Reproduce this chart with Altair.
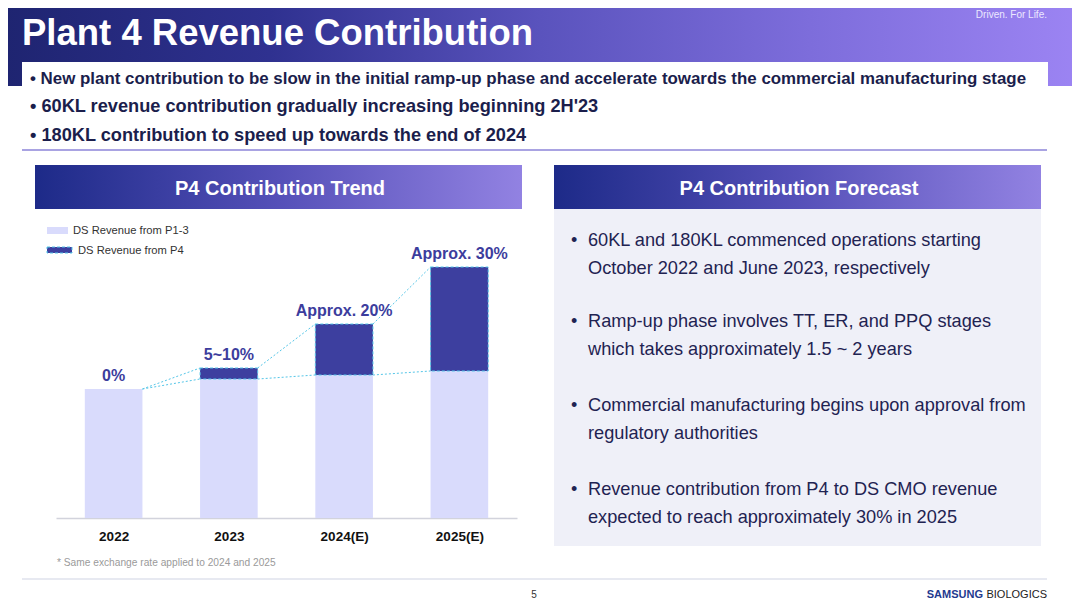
import altair as alt
import pandas as pd

# ---------------- data ----------------
YEARS = ["2022", "2023", "2024(E)", "2025(E)"]
P13 = [129, 139, 143, 147]          # DS revenue from P1-3 (relative units)
P4 = [0, 11, 51, 104]               # DS revenue from P4 (relative units)
BAR_LABELS = ["0%", "5~10%", "Approx. 20%", "Approx. 30%"]
SERIES = ["DS Revenue from P1-3", "DS Revenue from P4"]

TITLE = "Plant 4 Revenue Contribution"
TAGLINE = "Driven. For Life."
TOP_BULLETS = [
    "\u2022 New plant contribution to be slow in the initial ramp-up phase and accelerate towards the commercial manufacturing stage",
    "\u2022 60KL revenue contribution gradually increasing beginning 2H'23",
    "\u2022 180KL contribution to speed up towards the end of 2024",
]
PANEL_TITLES = ["P4 Contribution Trend", "P4 Contribution Forecast"]
FORECAST = [
    ["60KL and 180KL commenced operations starting", "October 2022 and June 2023, respectively"],
    ["Ramp-up phase involves TT, ER, and PPQ stages", "which takes approximately 1.5 ~ 2 years"],
    ["Commercial manufacturing begins upon approval from", "regulatory authorities"],
    ["Revenue contribution from P4 to DS CMO revenue", "expected to reach approximately 30% in 2025"],
]
FOOTNOTE = "* Same exchange rate applied to 2024 and 2025"
PAGE = "5"
BRAND = ["SAMSUNG", "BIOLOGICS"]

# ---------------- style ----------------
FONT = "Liberation Sans"
W, H = 1064, 598
OX, OY = 8, 8
LIGHT = "#d9dbfc"
DARK = "#3d3f9f"
CYAN = "#55c6e8"
LABEL_C = "#3c3d9d"
NAVY_TXT = "#1b1e4c"
HALF = 0.25

ONE = pd.DataFrame({"k": [0]})


def X(v):
    return alt.value(v - OX)


def Y(v):
    return alt.value(v - OY)


def rect(x1, y1, x2, y2, **mk):
    return alt.Chart(ONE).mark_rect(**mk).encode(x=X(x1), x2=X(x2), y=Y(y1), y2=Y(y2))


def hline(x1, x2, y, **mk):
    return alt.Chart(ONE).mark_rule(**mk).encode(x=X(x1), x2=X(x2), y=Y(y))


def text(t, x, y, **mk):
    mk.setdefault("font", FONT)
    mk.setdefault("baseline", "alphabetic")
    return alt.Chart(ONE).mark_text(text=t, **mk).encode(x=X(x), y=Y(y))


def grad(stops):
    return alt.Gradient(
        gradient="linear",
        stops=[alt.GradientStop(color=c, offset=o) for o, c in stops],
        x1=0, x2=1, y1=0, y2=0,
    )


HEADER_GRAD = grad([(0, "#1e2470"), (0.25, "#2f3190"), (0.5, "#5a53bd"), (0.75, "#7d6ddb"), (1, "#9c84f3")])
PANEL_GRAD = grad([(0, "#1d2a88"), (0.5, "#5550b8"), (1, "#9282e2")])

layers = []

# header
layers.append(rect(0, 0, 1080, 86, fill=HEADER_GRAD))
layers.append(text(TAGLINE, 1047, 18, align="right", fontSize=10, color="#ece8ff"))
layers.append(text(TITLE, 22, 45, align="left", fontSize=36.5, fontWeight="bold", color="white"))
layers.append(rect(22, 62, 1048, 148, fill="white"))
for row, yb, fs in zip(TOP_BULLETS, [84, 112, 141], [16.9, 18.2, 18.2]):
    layers.append(text(row, 30, yb, align="left", fontSize=fs, fontWeight="bold", color=NAVY_TXT))
layers.append(hline(22, 1047, 150, color="#8c84d9", strokeWidth=1.5))

# panel headers
layers.append(rect(35, 165, 522, 209, fill=PANEL_GRAD))
layers.append(text(PANEL_TITLES[0], 280, 195, align="center", fontSize=20, fontWeight="bold", color="white"))
layers.append(rect(554, 165, 1041, 209, fill=PANEL_GRAD))
layers.append(rect(554, 209, 1041, 546, fill="#eff0f8"))
layers.append(text(PANEL_TITLES[1], 799, 195, align="center", fontSize=20, fontWeight="bold", color="white"))

# forecast bullets
for lines, yb in zip(FORECAST, [246, 327, 411, 495]):
    layers.append(text("\u2022", 571, yb, align="left", fontSize=18, color="#1f2352"))
    layers.append(text(lines, 588, yb, align="left", fontSize=18.2, lineHeight=28, color="#1f2352"))

# legend (manual)
layers.append(rect(47, 227, 68, 234, fill=LIGHT))
layers.append(text(SERIES[0], 73, 234, align="left", fontSize=11.2, color="#333333"))
layers.append(rect(47, 247, 72, 253, fill=DARK, stroke=CYAN, strokeDash=[3, 2], strokeWidth=1))
layers.append(text(SERIES[1], 78, 254, align="left", fontSize=11.2, color="#333333"))

# ---------------- bar chart ----------------
x_scale = alt.Scale(domain=[-0.5, 3.5], range=[56 - OX, 517 - OX], zero=False, nice=False)
y_scale = alt.Scale(domain=[0, 300], range=[518 - OY, 218 - OY], nice=False)
label_expr = "[" + ",".join("'%s'" % y for y in YEARS) + "][datum.value]"
x_axis = alt.Axis(
    values=list(range(len(YEARS))), labelExpr=label_expr, orient="bottom",
    offset=(518 - OY) - H, ticks=False, tickSize=0, grid=False, title=None,
    domainColor="#d2d3dc", domainWidth=1.5, labelFont=FONT, labelFontSize=13.5,
    labelFontWeight="bold", labelColor="#111111", labelPadding=11,
)

rows = []
for i, (yr, a, b) in enumerate(zip(YEARS, P13, P4)):
    rows.append(dict(year=yr, i=i, series=SERIES[0], y0=0, y1=a))
    if b > 0:
        rows.append(dict(year=yr, i=i, series=SERIES[1], y0=a, y1=a + b))
bars = pd.DataFrame(rows)
bars["xa"] = bars["i"] - HALF
bars["xb"] = bars["i"] + HALF

bar_layer = alt.Chart(bars).mark_rect(strokeDash=[3, 2], strokeWidth=1).encode(
    x=alt.X("xa:Q", scale=x_scale, axis=x_axis),
    x2="xb:Q",
    y=alt.Y("y0:Q", scale=y_scale, axis=None),
    y2="y1:Q",
    color=alt.Color("series:N", scale=alt.Scale(domain=SERIES, range=[LIGHT, DARK]), legend=None),
    stroke=alt.Stroke("series:N", scale=alt.Scale(domain=SERIES, range=["transparent", CYAN]), legend=None),
)

totals = [a + b for a, b in zip(P13, P4)]
crow = []
for i in range(len(YEARS) - 1):
    for tops in (P13, totals):
        crow.append(dict(xa=i + HALF, xb=i + 1 - HALF, ya=tops[i], yb=tops[i + 1]))
conn = pd.DataFrame(crow)
conn_layer = alt.Chart(conn).mark_rule(color=CYAN, strokeDash=[2, 2], strokeWidth=1).encode(
    x=alt.X("xa:Q", scale=x_scale, axis=x_axis),
    x2="xb:Q",
    y=alt.Y("ya:Q", scale=y_scale, axis=None),
    y2="yb:Q",
)

labs = pd.DataFrame({"i": list(range(len(YEARS))), "total": totals, "label": BAR_LABELS})
lab_layer = alt.Chart(labs).mark_text(
    dy=-8, baseline="alphabetic", fontSize=16, fontWeight="bold", color=LABEL_C, font=FONT
).encode(
    x=alt.X("i:Q", scale=x_scale, axis=x_axis),
    y=alt.Y("total:Q", scale=y_scale, axis=None),
    text="label:N",
)

layers += [bar_layer, conn_layer, lab_layer]

# footnote & footer
layers.append(text(FOOTNOTE, 57, 566, align="left", fontSize=10.2, color="#9a9a9a"))
layers.append(hline(22, 1047, 579, color="#dfe2ec", strokeWidth=1.5))
layers.append(text(PAGE, 534, 598, align="center", fontSize=10, color="#333333"))
layers.append(text(BRAND[1], 1047, 598, align="right", fontSize=11, color="#222222"))
layers.append(text(BRAND[0], 983, 598, align="right", fontSize=11, fontWeight="bold", color="#1f3a8f"))

chart = alt.layer(*layers).properties(
    width=W, height=H, padding=0,
    autosize=alt.AutoSizeParams(type="none"),
    background="white",
).configure_view(stroke=None)

chart.save("out.html", embed_options={"renderer": "svg", "actions": False})
